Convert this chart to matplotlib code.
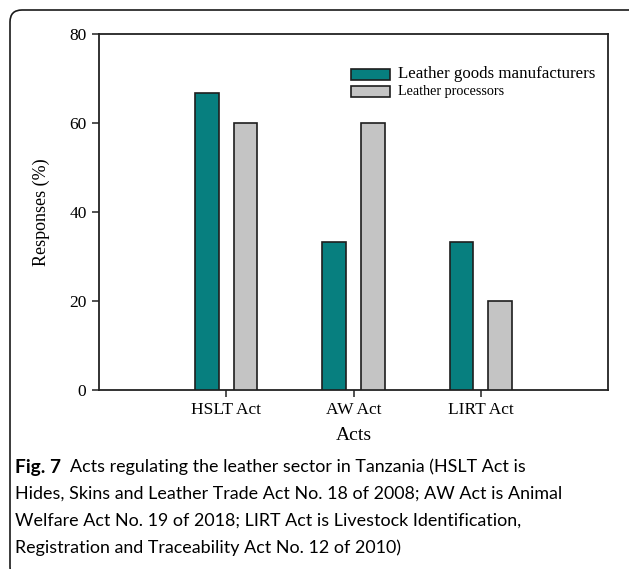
import matplotlib
matplotlib.use("Agg")
import matplotlib.pyplot as plt
from matplotlib.patches import Rectangle, FancyBboxPatch
from matplotlib.transforms import IdentityTransform
import numpy as np

acts = ["HSLT Act", "AW Act", "LIRT Act"]
manufacturers = [66.7, 33.3, 33.3]
processors = [60.0, 60.0, 20.0]
series_names = ["Leather goods manufacturers", "Leather processors"]
yticks = [0, 20, 40, 60, 80]

TEAL = "#077f7f"
GREY = "#c4c4c4"
EDGE = "#1e1e1e"
SERIF = ["Liberation Serif", "DejaVu Serif"]
SANS = ["Lato", "Noto Sans", "DejaVu Sans"]

W, H = 629, 569
fig = plt.figure(figsize=(W / 100, H / 100), dpi=100)
fig.patch.set_facecolor("white")

ax = fig.add_axes([99 / W, 1 - 390 / H, 509 / W, 356 / H])
x = np.arange(len(acts))
off, bw = 0.152, 0.185
ax.bar(x - off, manufacturers, bw, color=TEAL, edgecolor=EDGE, linewidth=1.2, zorder=3)
ax.bar(x + off, processors, bw, color=GREY, edgecolor=EDGE, linewidth=1.2, zorder=3)

ax.set_xlim(-1, 3)
ax.set_ylim(0, 80)
ax.set_xticks(x)
ax.set_xticklabels(acts, fontsize=12.5, family=SERIF)
ax.set_yticks(yticks)
ax.set_yticklabels([str(v) for v in yticks], fontsize=12.5, family=SERIF)
ax.tick_params(direction="out", length=5, width=1.1, color="#222222", pad=4)
for s in ax.spines.values():
    s.set_linewidth(1.3)
    s.set_color("#222222")
ax.set_xlabel("Acts", fontsize=14, family=SERIF, labelpad=6)
ax.set_ylabel("Responses (%)", fontsize=13, family=SERIF, labelpad=14)

# legend drawn as boxes and labels in axes coordinates
for (y0, col, name, fs) in [(0.872, TEAL, series_names[0], 12.2),
                            (0.823, GREY, series_names[1], 10.2)]:
    ax.add_patch(Rectangle((0.495, y0), 0.077, 0.031, transform=ax.transAxes,
                           facecolor=col, edgecolor=EDGE, linewidth=1.2, zorder=4))
    ax.text(0.587, y0 + 0.0155, name, transform=ax.transAxes, fontsize=fs,
            family=SERIF, va="center", ha="left", zorder=4)

# rounded frame around the figure block
frame = FancyBboxPatch((10, -10), 640, 559 + 10, boxstyle="round,pad=0,rounding_size=12",
                       transform=IdentityTransform(), facecolor="none",
                       edgecolor="#1a1a1a", linewidth=1.2)
fig.patches.append(frame)

# caption
cap_lines = [
    "Acts regulating the leather sector in Tanzania (HSLT Act is",
    "Hides, Skins and Leather Trade Act No. 18 of 2008; AW Act is Animal",
    "Welfare Act No. 19 of 2018; LIRT Act is Livestock Identification,",
    "Registration and Traceability Act No. 12 of 2010)",
]
cap_fs = 12.9
line_y = [467, 494, 521, 548]
fig.canvas.draw()
r = fig.canvas.get_renderer()
bold = fig.text(15 / W, 1 - line_y[0] / H, "Fig. 7", fontsize=13.8, family=SANS,
                weight="bold", va="center", ha="left")
bb = bold.get_window_extent(renderer=r)
fig.text((bb.x1 + 9) / W, 1 - line_y[0] / H, cap_lines[0], fontsize=cap_fs, family=SANS,
         va="center", ha="left")
for ln, yy in zip(cap_lines[1:], line_y[1:]):
    fig.text(15 / W, 1 - yy / H, ln, fontsize=cap_fs, family=SANS, va="center", ha="left")

fig.savefig("out.png", dpi=100)
